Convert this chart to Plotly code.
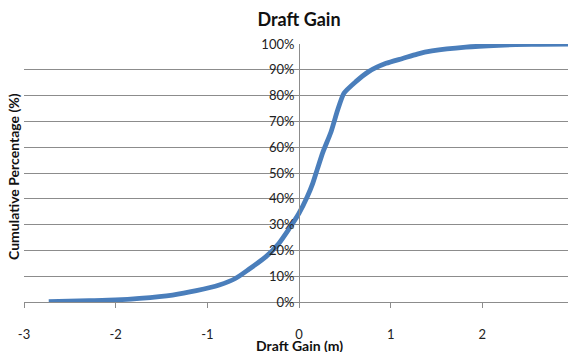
import plotly.graph_objects as go

# Cumulative distribution of draft gain
draft_gain_m = [-2.73, -2.29, -2.0, -1.74, -1.38, -1.12, -0.87, -0.69, -0.55, -0.36,
                -0.22, -0.11, 0.0, 0.09, 0.15, 0.2, 0.26, 0.35, 0.42, 0.49,
                0.62, 0.76, 0.95, 1.13, 1.29, 1.45, 1.82, 2.18, 2.54, 2.98]
cumulative_pct = [0.1, 0.5, 0.8, 1.4, 2.7, 4.4, 6.6, 9.2, 12.6, 17.6,
                  22.7, 28.3, 34.4, 40.8, 46.0, 51.5, 58.0, 66.0, 74.2, 80.9,
                  85.4, 89.3, 92.5, 94.4, 96.1, 97.3, 98.8, 99.5, 99.9, 100.0]

x_ticks = [-3, -2, -1, 0, 1, 2, 3]
y_ticks = [0, 10, 20, 30, 40, 50, 60, 70, 80, 90, 100]
y_tick_labels = [f"{v}%" for v in y_ticks]

FONT = "Lato, 'Open Sans', sans-serif"
GRID = "#8c8c8c"
OFF = 8  # page body margin offset

fig = go.Figure()
fig.add_trace(go.Scatter(
    x=draft_gain_m, y=cumulative_pct, mode="lines",
    line=dict(color="#4a7ebb", width=4.8, shape="spline", smoothing=0.6),
    showlegend=False, hoverinfo="skip",
))

W = 576
H = 352 - OFF
fig.update_layout(
    width=W, height=H,
    margin=dict(l=24 - OFF, r=W - (574 - OFF), t=44 - OFF, b=H - (302 - OFF),
                autoexpand=False),
    paper_bgcolor="white", plot_bgcolor="white",
    font=dict(family=FONT, size=13, color="#222"),
    title=dict(text="<b>Draft Gain</b>", x=0.5, xref="paper", y=1 - (20 - OFF) / H,
               yanchor="middle", xanchor="center", automargin=False,
               font=dict(family=FONT, size=18, color="#111")),
    xaxis=dict(
        range=[-3, 3], tickvals=x_ticks, ticktext=[str(v) for v in x_ticks],
        showgrid=False, zeroline=False, automargin=False,
        showline=True, linecolor=GRID, linewidth=1,
        ticks="outside", ticklen=5, tickcolor=GRID, tickwidth=1,
        ticklabelstandoff=15,
        tickfont=dict(family=FONT, size=13, color="#222"),
    ),
    yaxis=dict(
        range=[0, 100], tickvals=y_ticks, ticktext=y_tick_labels,
        anchor="free", position=0.5, automargin=False,
        showgrid=True, gridcolor=GRID, gridwidth=1,
        zeroline=False, showline=True, linecolor=GRID, linewidth=1,
        ticks="", ticklabelstandoff=2,
        tickfont=dict(family=FONT, size=13, color="#222"),
    ),
    annotations=[
        dict(text="<b>Draft Gain (m)</b>", xref="paper", yref="paper",
             x=0.5, y=(302 - 345) / 258, xanchor="center", yanchor="middle",
             showarrow=False, font=dict(family=FONT, size=14, color="#111")),
        dict(text="<b>Cumulative Percentage (%)</b>", xref="paper", yref="paper",
             x=(13 - 24) / 550, y=(302 - 177) / 258, xanchor="center", yanchor="middle",
             textangle=-90, showarrow=False,
             font=dict(family=FONT, size=14, color="#111")),
    ],
)

fig.write_html("out.html")
